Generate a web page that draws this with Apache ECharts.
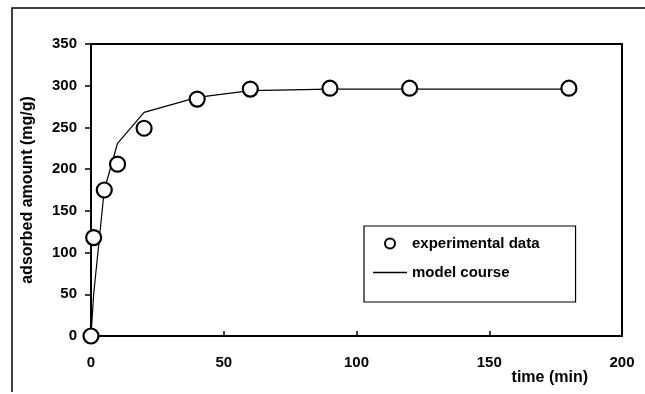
<!DOCTYPE html>
<html><head><meta charset="utf-8">
<script src="https://cdn.jsdelivr.net/npm/echarts@6/dist/echarts.min.js"></script>
<style>html,body{margin:0;padding:0;background:#fff;}#c{width:645px;height:394px;}</style>
</head><body><div id="c"></div>
<script>
const timeExp = [0, 1, 5, 10, 20, 40, 60, 90, 120, 180];
const qExp = [0, 118, 175, 206, 249, 284, 296, 297, 297, 297];
const timeModel = [0, 1, 5, 10, 20, 40, 60, 90, 120, 180];
const qModel = [0, 50, 175, 231, 268, 286, 294, 296, 296, 296];
const seriesNames = ['experimental data', 'model course'];
const xAxisName = 'time (min)';
const yAxisName = 'adsorbed amount (mg/g)';

const FONT = "'Liberation Sans', Arial, sans-serif";
const chart = echarts.init(document.getElementById('c'), null, {renderer: 'canvas'});
chart.setOption({
  backgroundColor: '#fff',
  animation: false,
  textStyle: {fontFamily: FONT},
  grid: {left: 91, right: 23, top: 44, bottom: 58, show: true, borderColor: '#000', borderWidth: 2, backgroundColor: 'transparent'},
  graphic: [{
    type: 'polyline', silent: true,
    shape: {points: [[12, 392], [12, 8], [645, 8]]},
    style: {stroke: '#000', lineWidth: 1.5, fill: null}
  }],
  legend: {
    orient: 'vertical', left: 364, top: 226,
    data: [
      {name: seriesNames[0], icon: 'circle'},
      {name: seriesNames[1], icon: 'path://M0,0 L34,0 L34,1.3 L0,1.3 Z', itemStyle: {color: '#000', borderWidth: 0}}
    ],
    symbolKeepAspect: true,
    borderColor: '#000', borderWidth: 1.2,
    padding: [10, 36, 22, 9],
    itemGap: 14, itemWidth: 34, itemHeight: 10,
    textStyle: {fontFamily: FONT, fontWeight: 'bold', fontSize: 15, color: '#000'}
  },
  xAxis: {
    type: 'value', min: 0, max: 200, interval: 50,
    name: xAxisName, nameLocation: 'end', nameGap: 0,
    nameTextStyle: {fontFamily: FONT, fontWeight: 'bold', fontSize: 16, color: '#000', align: 'right', verticalAlign: 'top', padding: [34, 34, 0, 0]},
    axisLine: {lineStyle: {color: '#000', width: 2}},
    axisTick: {inside: true, length: 5, lineStyle: {color: '#000', width: 1.5}},
    axisLabel: {margin: 19, fontFamily: FONT, fontWeight: 'bold', fontSize: 15, color: '#000'},
    splitLine: {show: false}
  },
  yAxis: {
    type: 'value', min: 0, max: 350, interval: 50,
    name: yAxisName, nameLocation: 'middle', nameGap: 55,
    nameTextStyle: {fontFamily: FONT, fontWeight: 'bold', fontSize: 16, color: '#000'},
    axisLine: {show: true, lineStyle: {color: '#000', width: 2}},
    axisTick: {show: true, inside: false, length: 6, lineStyle: {color: '#000', width: 1.5}},
    axisLabel: {margin: 14, fontFamily: FONT, fontWeight: 'bold', fontSize: 15, color: '#000'},
    splitLine: {show: false}
  },
  series: [{
    name: seriesNames[1], type: 'line', z: 2,
    data: timeModel.map((t, i) => [t, qModel[i]]),
    showSymbol: false, symbol: 'none',
    lineStyle: {color: '#000', width: 1.2},
    itemStyle: {color: '#000'}
  }, {
    name: seriesNames[0], type: 'scatter', z: 3,
    data: timeExp.map((t, i) => [t, qExp[i]]),
    symbol: 'circle', symbolSize: 15,
    itemStyle: {color: '#fff', borderColor: '#000', borderWidth: 2.2, opacity: 1}
  }]
});
</script></body></html>
